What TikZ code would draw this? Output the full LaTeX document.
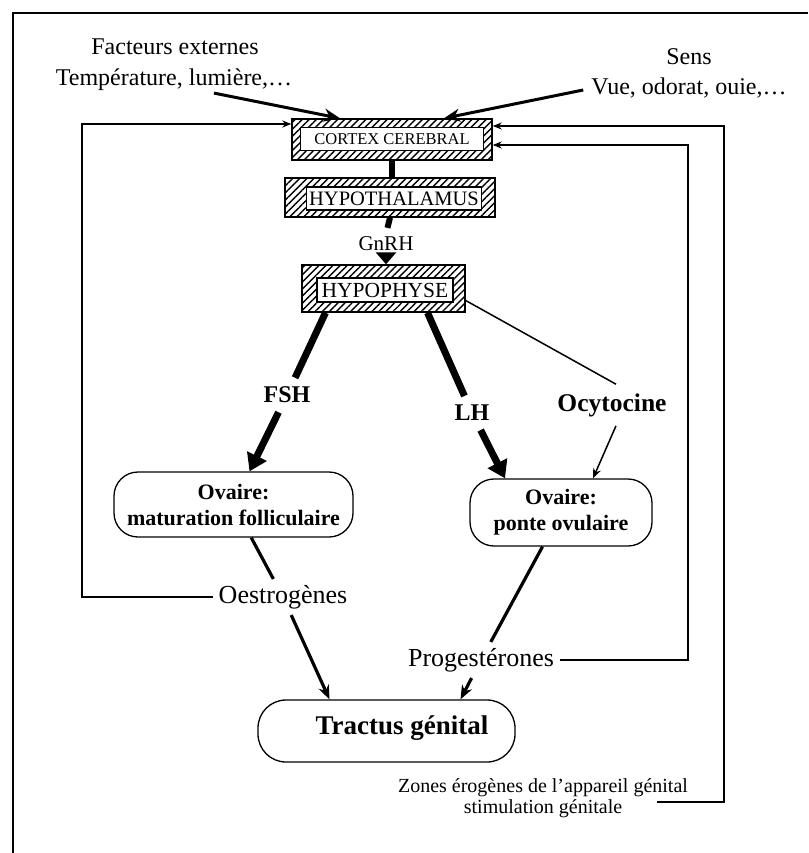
\documentclass[tikz,border=0pt]{standalone}
\usepackage{fontspec}
\setmainfont{Liberation Serif}
\usetikzlibrary{patterns.meta,calc,arrows.meta}
\begin{document}
\begin{tikzpicture}[x=1pt,y=-1pt,
  hatchout/.style={draw,line width=1.4pt,pattern={Lines[angle=45,distance=5pt,line width=1.4pt]},inner sep=0pt},
  hatchin/.style={draw,fill=white,line width=1.1pt,inner sep=0pt},
  ovbox/.style={draw,line width=1.3pt,rounded corners=24pt,align=center,inner sep=0pt,font=\bfseries\fontsize{22}{26}\selectfont},
  lbl/.style={inner sep=6pt,font=\fontsize{26}{28}\selectfont},
  blbl/.style={inner sep=9pt,font=\bfseries\fontsize{24}{26}\selectfont},
  toptxt/.style={inner sep=2pt,font=\fontsize{24}{26}\selectfont},
  bigarrow/.style={line width=7pt,-{Triangle[length=17pt,width=21pt]}},
  thickline/.style={line width=7pt},
  toparrow/.style={line width=3pt,-{Stealth[length=16pt,width=13pt]}},
  medarrow/.style={line width=3.2pt,-{Stealth[length=14pt,width=11pt]}},
  medline/.style={line width=3.2pt},
  thinarrow/.style={line width=1.5pt,-{Stealth[length=10pt,width=8pt]}},
  thinline/.style={line width=1.5pt},
  fb/.style={line width=1.8pt,-{Stealth[length=9pt,width=7pt]}},
]
\useasboundingbox (0,0) rectangle (808,853);
% frame
\draw[line width=2.5pt] (13,853) -- (13,13) -- (808,13);

% top texts
\node[toptxt] (fact1) at (175,47) {Facteurs externes};
\node[toptxt] (fact2) at (174,80) {Température, lumière,…};
\node[toptxt] (sens1) at (689,57) {Sens};
\node[toptxt] (sens2) at (689,88) {Vue, odorat, ouie,…};

% hatched boxes
\node[hatchout,minimum width=200pt,minimum height=41pt] (cortex) at (392,139.5) {};
\node[hatchin,minimum width=183pt,minimum height=23pt,font=\fontsize{16.5}{18}\selectfont] (cortexT) at (392,139) {CORTEX CEREBRAL};
\node[hatchout,minimum width=210pt,minimum height=39pt] (hypoth) at (390,197.5) {};
\node[hatchin,minimum width=175pt,minimum height=23pt,font=\fontsize{20.5}{21}\selectfont] (hypothT) at (394,198.5) {HYPOTHALAMUS};
\node[hatchout,minimum width=163pt,minimum height=47pt] (hypo) at (383.5,288.5) {};
\node[hatchin,minimum width=136pt,minimum height=24pt,font=\fontsize{21.5}{22}\selectfont] (hypoT) at (385,290) {HYPOPHYSE};

\node[inner sep=3pt,font=\fontsize{21}{22}\selectfont] (gnrh) at (386,244) {GnRH};

% hormone labels
\node[blbl] (fsh) at (287,395) {FSH};
\node[blbl] (lh) at (472,413) {LH};
\node[blbl,font=\bfseries\fontsize{25.5}{27}\selectfont] (ocy) at (612,405) {Ocytocine};

% ovaries
\node[ovbox,minimum width=239pt,minimum height=65pt] (ovA) at (233.5,504.5) {Ovaire:\\maturation folliculaire};
\node[ovbox,minimum width=182pt,minimum height=67pt] (ovB) at (561,512.5) {Ovaire:\\ponte ovulaire};

\node[lbl] (oestro) at (283,597) {Oestrogènes};
\node[lbl] (prog) at (481,660) {Progestérones};

\node[draw,line width=1.3pt,rounded corners=28pt,minimum width=257pt,minimum height=62pt,inner sep=0pt] (tractus) at (386.5,731) {};
\node[inner sep=0pt,font=\bfseries\fontsize{27}{30}\selectfont] (tractusT) at (402,728) {Tractus génital};

\node[align=center,inner sep=2pt,font=\fontsize{20}{21}\selectfont] (zones) at (543,798.5) {Zones érogènes de l'appareil génital\\stimulation génitale};

% coordinates for feedback routes
\coordinate (fbL) at (82,124);
\coordinate (fbR1) at (724,126);
\coordinate (fbR2) at (688,145);
\coordinate (zS) at ($(zones.center)+(114,3.5)$);

% top arrows
\draw[toparrow] ($(fact2.south)+(40,0)$) -- ($(cortex.north)+(-52,0)$);
\draw[toparrow] ($(sens2.west)+(-6,2)$) -- ($(cortex.north)+(52,0)$);

% vertical chain
\draw[line width=6pt] (cortex.south) -- (cortex.south |- hypoth.north);
\draw[line width=6pt,shorten >=6pt] (hypoth.south) -- (gnrh.north);
\draw[line width=5pt,-{Triangle[length=12pt,width=20pt]},shorten <=-2pt] (gnrh.south) -- (gnrh.south |- hypo.north);

% FSH / LH / Ocytocine
\draw[thickline] ($(hypo.south)+(-58,0)$) -- (fsh);
\draw[bigarrow] (fsh) -- ($(ovA.north)+(16,0)$);
\draw[thickline] ($(hypo.south)+(44,0)$) -- (lh);
\draw[bigarrow] (lh) -- ($(ovB.north)+(-56,0)$);
\draw[thinline] ($(hypo.east)+(0,12)$) -- ($(ocy.north)+(4,0)$);
\draw[thinarrow] ($(ocy.south)+(4,0)$) -- ($(ovB.north)+(32,0)$);

% ovaries to tractus
\draw[medline] (ovA) -- (oestro);
\draw[medarrow] (oestro) -- ($(tractus.north)+(-57,0)$);
\draw[medline] (ovB) -- (prog);
\draw[medarrow] (prog) -- ($(tractus.north)+(74,0)$);

% feedback loops
\draw[fb] (oestro.west) -| (fbL) -- (fbL -| cortex.west);
\draw[fb] (prog.east) -| (fbR2) -- (fbR2 -| cortex.east);
\draw[fb] (zS) -| (fbR1) -- (fbR1 -| cortex.east);
\end{tikzpicture}
\end{document}
